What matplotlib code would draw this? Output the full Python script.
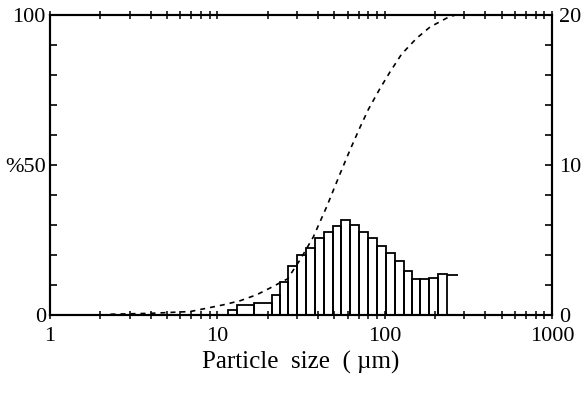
import matplotlib
matplotlib.use('Agg')
import matplotlib.pyplot as plt
from matplotlib.ticker import LogLocator, MultipleLocator, NullFormatter

plt.rcParams['font.family'] = 'Liberation Serif'

# histogram bins (um) and frequency (%)
edges = [11.6, 13.1, 16.6, 21.2, 23.7, 26.6, 30.1, 33.9, 38.3, 43.4, 48.9, 54.8, 62.1,
         70.3, 79.9, 90.4, 101.9, 115.3, 130.5, 145.1, 162.7, 184.9, 209.3, 234.9, 275.5]
freq = [0.33, 0.67, 0.82, 1.33, 2.22, 3.29, 4.0, 4.45, 5.11, 5.55, 5.93, 6.33, 6.0,
        5.55, 5.11, 4.6, 4.11, 3.6, 2.93, 2.38, 2.38, 2.45, 2.71, 2.67]

# cumulative curve (%)
cum_x = [2.3, 4.0, 6.9, 10.8, 13.7, 17.2, 20.6, 26.3, 31.2, 37.5, 45.0, 54.1, 62.1,
         71.2, 79.9, 93.8, 107.6, 126.4, 155.5, 186.6, 234.9, 263.3]
cum_y = [0.2, 0.5, 1.1, 3.3, 4.7, 6.7, 8.9, 12.0, 18.3, 26, 36, 47, 55,
         62.5, 68.5, 75.5, 81, 87, 92.3, 96, 99, 100]

fig = plt.figure(figsize=(5.81, 3.97), dpi=100)
ax = fig.add_axes([0.086, 0.207, 0.864, 0.755])
ax.set_xscale('log')
ax.set_xlim(1, 1000)
ax.set_ylim(0, 100)

ax.plot(cum_x, cum_y, color='black', lw=1.2, linestyle=(0, (3, 3)))

ax2 = ax.twinx()
ax2.set_ylim(0, 20)
lefts = edges[:-2]
widths = [edges[i + 1] - edges[i] for i in range(len(edges) - 2)]
ax2.bar(lefts, freq[:-1], width=widths, align='edge', fill=False,
        edgecolor='black', linewidth=1.3)
# last bin only has its top drawn
ax2.hlines(freq[-1], edges[-2], edges[-1], color='black', lw=1.3)

for a in (ax, ax2):
    for s in a.spines.values():
        s.set_linewidth(1.5)

ax.xaxis.set_minor_locator(LogLocator(base=10, subs=range(2, 10)))
ax.xaxis.set_minor_formatter(NullFormatter())
ax.set_xticks([1, 10, 100, 1000])
ax.set_xticklabels(['1', '10', '100', '1000'])
ax.tick_params(axis='x', which='both', direction='inout', top=True, length=6,
               width=1.1, labelsize=16, pad=6)

ax.set_yticks([0, 50, 100])
ax.set_yticklabels(['0', '%50', '100'])
ax.yaxis.set_minor_locator(MultipleLocator(10))
ax.tick_params(axis='y', which='both', direction='in', length=5, width=1.2,
               labelsize=16, pad=3)

ax2.set_yticks([0, 10, 20])
ax2.yaxis.set_minor_locator(MultipleLocator(2))
ax2.tick_params(axis='y', which='both', direction='in', length=5, width=1.2,
                labelsize=16, pad=5)

ax.set_xlabel('Particle  size  ( µm)', fontsize=18, labelpad=3)

fig.savefig('out.png', dpi=100)
